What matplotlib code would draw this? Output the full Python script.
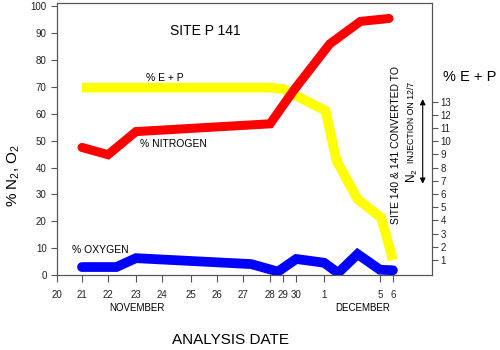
import numpy as np
import matplotlib
matplotlib.use("Agg")
import matplotlib.pyplot as plt

plt.rcParams['font.family'] = ['Liberation Sans', 'DejaVu Sans']
plt.rcParams['mathtext.default'] = 'regular'

# analysis days: Nov 20..30 -> 20..30, Dec 1 -> 31, Dec 5 -> 35, Dec 6 -> 36
tick_days = [20, 21, 22, 23, 24, 25, 26, 27, 28, 29, 30, 31, 35, 36]
tick_labels = ['20', '21', '22', '23', '24', '25', '26', '27', '28', '29', '30', '1', '5', '6']
# hand-drawn date axis: end of november and early december are squeezed
tick_pos = [0, 0.94, 1.92, 2.97, 3.95, 5.04, 6.02, 7.0, 8.02, 8.51, 9.0, 10.05, 12.15, 12.64]

n2_days = [21, 22, 23, 28, 29.8, 31.4, 33.6, 35.7]
n2_pct = [47.5, 44.8, 53.4, 56.3, 68.7, 86, 94.4, 95.5]

o2_days = [21, 22.3, 23, 27.3, 28.6, 30, 31, 32, 33.4, 35, 36]
o2_pct = [3.0, 3.0, 6.3, 4.1, 1.3, 6.0, 4.6, 0.8, 7.8, 2.0, 1.8]

ep_days = [21, 28, 29, 31.1, 31.9, 33.4, 35.1, 36]
ep_pct = [14.05, 14.05, 13.95, 12.3, 8.5, 5.6, 4.2, 1.0]


def xpos(days):
    return np.interp(days, tick_days, tick_pos)


fig = plt.figure(figsize=(5, 3.5), dpi=100)
ax = fig.add_axes([0.114, 0.214, 0.75, 0.777])
ax2 = ax.twinx()

lw = 6.5
ax2.plot(xpos(ep_days), ep_pct, color='#ffff00', lw=lw + 0.5,
         solid_capstyle='butt', solid_joinstyle='miter', zorder=1)
ax.set_zorder(ax2.get_zorder() + 1)
ax.patch.set_visible(False)
ax.plot(xpos(n2_days), n2_pct, color='#ff0000', lw=lw,
        solid_capstyle='round', solid_joinstyle='miter')
ax.plot(xpos(o2_days), o2_pct, color='#0000ff', lw=lw + 0.5,
        solid_capstyle='round', solid_joinstyle='miter')

ax.set_xlim(0, 14.11)
ax.set_ylim(0, 101.2)
ax2.set_ylim(-0.15, 20.45)

ax.set_xticks(tick_pos)
ax.set_xticklabels(tick_labels)
ax.set_yticks(range(0, 101, 10))
ax2.set_yticks(range(1, 14))

spine_c = '#555555'
for a in (ax, ax2):
    for s in a.spines.values():
        s.set_color(spine_c)
    a.tick_params(colors='#222222', labelsize=7, length=4, width=0.8, direction='out')
    a.tick_params(color=spine_c)
ax.tick_params(axis='x', pad=6, length=5)
ax2.tick_params(axis='y', pad=2)

ax.text(5.57, 91, 'SITE P 141', fontsize=10, ha='center', va='center')
ax.text(4.06, 73.5, '% E + P', fontsize=7.5, ha='center', va='center')
ax.text(4.37, 48.9, '% NITROGEN', fontsize=7.5, ha='center', va='center')
ax.text(1.62, 9.3, '% OXYGEN', fontsize=7.5, ha='center', va='center')

# note about the switch to nitrogen injection
ax.text(12.76, 48.5, 'SITE 140 & 141 CONVERTED TO', fontsize=7.5,
        rotation=90, ha='center', va='center')
ax.text(13.37, 37.0, 'N$_2$', fontsize=8.5, rotation=90,
        ha='center', va='center')
ax.text(13.33, 56.8, 'INJECTION ON 12/7', fontsize=6.3, rotation=90,
        ha='center', va='center')
ax.annotate('', xy=(13.76, 65.5), xytext=(13.76, 34),
            arrowprops=dict(arrowstyle='<|-|>', color='black', lw=0.8,
                            mutation_scale=8, shrinkA=0, shrinkB=0))

fig.text(0.028, 0.5, '% N$_2$, O$_2$', fontsize=11, rotation=90,
         ha='center', va='center')
fig.text(0.94, 0.78, '% E + P', fontsize=10.5, ha='center', va='center')
fig.text(0.273, 0.12, 'NOVEMBER', fontsize=7, ha='center', va='center')
fig.text(0.726, 0.12, 'DECEMBER', fontsize=7, ha='center', va='center')
fig.text(0.46, 0.028, 'ANALYSIS DATE', fontsize=11, ha='center', va='center')

fig.savefig('out.png', dpi=100)
